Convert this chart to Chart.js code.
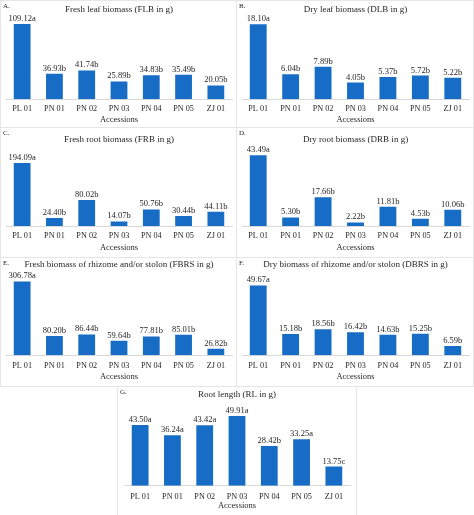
<!DOCTYPE html>
<html>
<head>
<meta charset="utf-8">
<script src="https://cdn.jsdelivr.net/npm/chart.js@4.4.1/dist/chart.umd.min.js"></script>
<style>
  body { margin: 0; background: #fff; }
  #wrap { position: relative; width: 474px; height: 515px; overflow: hidden; }
  .panel { position: absolute; border: 1px solid #e6e6e6; box-sizing: border-box; }
  .panel canvas { position: absolute; left: 0; top: 0; }
</style>
</head>
<body>
<div id="wrap">
  <div class="panel" style="left:0;top:0;width:237px;height:128px"><canvas id="chA" width="235" height="126"></canvas></div>
  <div class="panel" style="left:236px;top:0;width:238px;height:128px"><canvas id="chB" width="236" height="126"></canvas></div>
  <div class="panel" style="left:0;top:127px;width:237px;height:131px"><canvas id="chC" width="235" height="129"></canvas></div>
  <div class="panel" style="left:236px;top:127px;width:238px;height:131px"><canvas id="chD" width="236" height="129"></canvas></div>
  <div class="panel" style="left:0;top:257px;width:237px;height:130px"><canvas id="chE" width="235" height="128"></canvas></div>
  <div class="panel" style="left:236px;top:257px;width:238px;height:130px"><canvas id="chF" width="236" height="128"></canvas></div>
  <div class="panel" style="left:117px;top:386px;width:240px;height:131px"><canvas id="chG" width="238" height="129"></canvas></div>
</div>
<script>
const accessions = ['PL 01', 'PN 01', 'PN 02', 'PN 03', 'PN 04', 'PN 05', 'ZJ 01'];

const flb = [109.12, 36.93, 41.74, 25.89, 34.83, 35.49, 20.05];
const flbGroups = ['a', 'b', 'b', 'b', 'b', 'b', 'b'];
const dlb = [18.10, 6.04, 7.89, 4.05, 5.37, 5.72, 5.22];
const dlbGroups = ['a', 'b', 'b', 'b', 'b', 'b', 'b'];
const frb = [194.09, 24.40, 80.02, 14.07, 50.76, 30.44, 44.11];
const frbGroups = ['a', 'b', 'b', 'b', 'b', 'b', 'b'];
const drb = [43.49, 5.30, 17.66, 2.22, 11.81, 4.53, 10.06];
const drbGroups = ['a', 'b', 'b', 'b', 'b', 'b', 'b'];
const fbrs = [306.78, 80.20, 86.44, 59.64, 77.81, 85.01, 26.82];
const fbrsGroups = ['a', 'b', 'b', 'b', 'b', 'b', 'b'];
const dbrs = [49.67, 15.18, 18.56, 16.42, 14.63, 15.25, 6.59];
const dbrsGroups = ['a', 'b', 'b', 'b', 'b', 'b', 'b'];
const rl = [43.50, 36.24, 43.42, 49.91, 28.42, 33.25, 13.75];
const rlGroups = ['a', 'a', 'a', 'a', 'b', 'a', 'c'];

const serif = '"Liberation Serif", "Times New Roman", serif';
const textColor = '#262626';

// value + letter above each bar, and the panel letter in the corner
const barLabels = {
  id: 'barLabels',
  afterDatasetsDraw(chart, args, opts) {
    const ctx = chart.ctx;
    const meta = chart.getDatasetMeta(0);
    const ds = chart.data.datasets[0];
    ctx.save();
    ctx.fillStyle = textColor;
    ctx.font = '8.5px ' + serif;
    ctx.textAlign = 'center';
    ctx.textBaseline = 'bottom';
    meta.data.forEach((bar, i) => {
      ctx.fillText(ds.data[i].toFixed(2) + opts.groups[i], bar.x, bar.y - 1);
    });
    ctx.font = '7px ' + serif;
    ctx.textAlign = 'left';
    ctx.textBaseline = 'top';
    ctx.fillText(opts.letter, 2, 2);
    ctx.restore();
  }
};

function makePanel(id, letter, title, values, groups, max, pad) {
  return new Chart(document.getElementById(id), {
    type: 'bar',
    data: {
      labels: accessions,
      datasets: [{
        data: values,
        backgroundColor: '#176cc6',
        barPercentage: 0.52,
        categoryPercentage: 1,
      }],
    },
    options: {
      responsive: false,
      animation: false,
      layout: {
        padding: { left: pad.left, right: pad.right, top: 0, bottom: pad.bottom },
      },
      plugins: {
        legend: { display: false },
        tooltip: { enabled: false },
        title: {
          display: true,
          text: title,
          color: textColor,
          font: { family: serif, size: 9, weight: 'normal', lineHeight: 1 },
          padding: { top: pad.titleTop, bottom: pad.titleBottom },
        },
        barLabels: { groups: groups, letter: letter },
      },
      scales: {
        x: {
          grid: { display: false, drawTicks: false },
          border: { display: true, color: '#d9d9d9' },
          ticks: {
            color: textColor,
            padding: pad.tick,
            maxRotation: 0,
            font: { family: serif, size: 8.2, lineHeight: 1 },
          },
          title: {
            display: true,
            text: 'Accessions',
            color: textColor,
            padding: { top: pad.axisTitle, bottom: 0 },
            font: { family: serif, size: 8.5, lineHeight: 1 },
          },
        },
        y: {
          display: false,
          min: 0,
          max: max,
        },
      },
    },
    plugins: [barLabels],
  });
}

const padTop = { left: 5, right: 4, bottom: 3.25, titleTop: 4.5, titleBottom: 2, tick: 5.3, axisTitle: -2.85 };
const padMid = { left: 5, right: 4, bottom: 5.25, titleTop: 6.8, titleBottom: 1, tick: 5.9, axisTitle: -2.75 };
const padLow = { left: 5, right: 4, bottom: 5.05, titleTop: 2.5, titleBottom: 1.5, tick: 6.7, axisTitle: -4.35 };
const padG = { left: 6, right: 6, bottom: 5.75, titleTop: 3.5, titleBottom: 2.5, tick: 6.9, axisTitle: -5.95 };

makePanel('chA', 'A.', 'Fresh leaf biomass (FLB in g)', flb, flbGroups, 120, padTop);
makePanel('chB', 'B.', 'Dry leaf biomass (DLB in g)', dlb, dlbGroups, 20, padTop);
makePanel('chC', 'C.', 'Fresh root biomass (FRB in g)', frb, frbGroups, 250, padMid);
makePanel('chD', 'D.', 'Dry root biomass (DRB in g)', drb, drbGroups, 50, padMid);
makePanel('chE', 'E.', 'Fresh biomass of rhizome and/or stolon (FBRS in g)', fbrs, fbrsGroups, 350, padLow);
makePanel('chF', 'F.', 'Dry biomass of rhizome and/or stolon (DBRS in g)', dbrs, dbrsGroups, 60, padLow);
makePanel('chG', 'G.', 'Root length (RL in g)', rl, rlGroups, 60, padG);
</script>
</body>
</html>
